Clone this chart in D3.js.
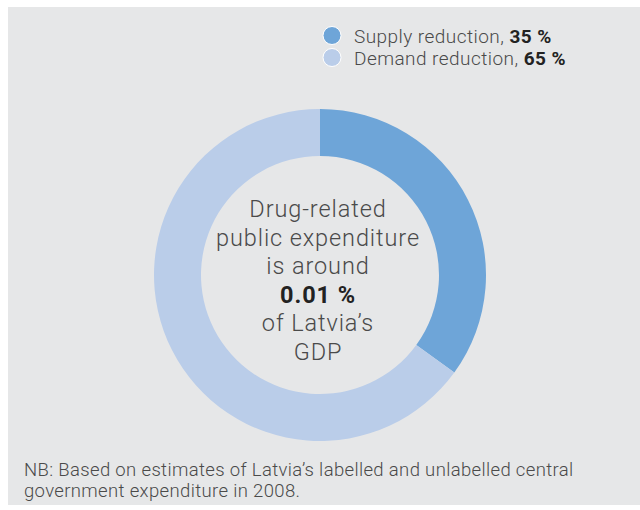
<!DOCTYPE html>
<html>
<head>
<meta charset="utf-8">
<script src="https://cdn.jsdelivr.net/npm/d3@7"></script>
<style>
  html, body { margin: 0; padding: 0; background: #ffffff; }
  svg { display: block; }
  text { font-family: Roboto, "Noto Sans", sans-serif; }
</style>
</head>
<body>
<svg id="chart" width="640" height="510"></svg>
<script>
// Drug-related public expenditure split, Latvia
const categories = ["Supply reduction", "Demand reduction"];
const shares = [35, 65];
const colours = ["#6ea5d8", "#bacde9"];
const centreLines = ["Drug-related", "public expenditure", "is around", "0.01 %", "of Latvia’s", "GDP"];
const boldLine = 3;
const footnote = [
  "NB: Based on estimates of Latvia’s labelled and unlabelled central",
  "government expenditure in 2008."
];

const svg = d3.select("#chart");

// panel background
svg.append("rect")
  .attr("x", 8).attr("y", 7)
  .attr("width", 632).attr("height", 498)
  .attr("fill", "#e6e7e8");

const cx = 320, cy = 275, outerR = 166, innerR = 119;

const pie = d3.pie().sort(null).value(d => d);
const arc = d3.arc().innerRadius(innerR).outerRadius(outerR);

const g = svg.append("g").attr("transform", `translate(${cx},${cy})`);
g.selectAll("path")
  .data(pie(shares))
  .join("path")
  .attr("d", arc)
  .attr("fill", (d, i) => colours[i]);

// centre text
const lineH = 28.6;
const firstBaseline = 217;
svg.append("g").selectAll("text")
  .data(centreLines)
  .join("text")
  .attr("x", 318)
  .attr("y", (d, i) => firstBaseline + i * lineH)
  .attr("text-anchor", "middle")
  .attr("font-size", 23.5)
  .attr("letter-spacing", 0.9)
  .attr("font-weight", (d, i) => i === boldLine ? 700 : 300)
  .attr("fill", (d, i) => i === boldLine ? "#222222" : "#4a4a4a")
  .text(d => d);

// legend
const legend = svg.append("g");
const item = legend.selectAll("g")
  .data(categories)
  .join("g")
  .attr("transform", (d, i) => `translate(332,${35.5 + i * 22})`);
item.append("circle")
  .attr("r", 9)
  .attr("fill", (d, i) => colours[i])
  .attr("stroke", "#ffffff")
  .attr("stroke-width", 1);
const lt = item.append("text")
  .attr("x", 22)
  .attr("y", 7)
  .attr("font-size", 19)
  .attr("letter-spacing", 0.45)
  .attr("font-weight", 300)
  .attr("fill", "#4a4a4a");
lt.append("tspan").text(d => d + ", ");
lt.append("tspan")
  .attr("font-weight", 700)
  .attr("fill", "#222222")
  .text((d, i) => shares[i] + " %");

// footnote
svg.append("g").selectAll("text")
  .data(footnote)
  .join("text")
  .attr("x", 24)
  .attr("y", (d, i) => 476 + i * 21)
  .attr("font-size", 18.5)
  .attr("letter-spacing", 0.35)
  .attr("font-weight", 300)
  .attr("fill", "#4a4a4a")
  .text(d => d);
</script>
</body>
</html>
